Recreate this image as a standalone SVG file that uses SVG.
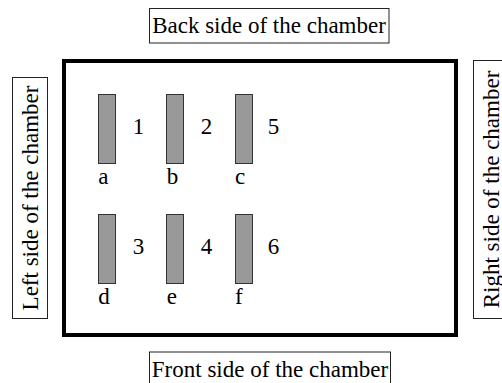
<svg xmlns="http://www.w3.org/2000/svg" width="502" height="383" viewBox="0 0 502 383" font-family="'Liberation Serif', 'Times New Roman', 'DejaVu Serif', serif">
<style>
text{font-family:'Liberation Serif','Times New Roman','DejaVu Serif',serif;font-size:23px;fill:#000}
.lbl{fill:#fff;stroke:#222;stroke-width:1}
.el{fill:#999;stroke:#333;stroke-width:1}
.mid{text-anchor:middle}
</style>
<rect width="502" height="383" fill="#fff"/>
<g id="chamber"><rect x="64" y="61" width="392" height="274" fill="none" stroke="#000" stroke-width="4"/></g>
<g id="back"><rect class="lbl" x="149.5" y="8.5" width="239.5" height="34.5"/><text class="mid" x="269" y="33">Back side of the chamber</text></g>
<g id="front"><rect class="lbl" x="149.5" y="352" width="241" height="34"/><text class="mid" x="270" y="377">Front side of the chamber</text></g>
<g id="left"><rect class="lbl" x="12.5" y="77.5" width="35" height="241"/><text class="mid" transform="translate(37.5,198) rotate(-90)">Left side of the chamber</text></g>
<g id="right"><rect class="lbl" x="473.5" y="60.5" width="35" height="258"/><text class="mid" transform="translate(498.5,189.5) rotate(-90)">Right side of the chamber</text></g>
<g id="pa"><rect class="el" x="98.5" y="94.5" width="17" height="69"/><text x="98.3" y="184">a</text><text class="mid" x="138.5" y="134">1</text></g>
<g id="pb"><rect class="el" x="166.5" y="94.5" width="17" height="69"/><text x="166.7" y="184">b</text><text class="mid" x="206.5" y="134">2</text></g>
<g id="pc"><rect class="el" x="235.5" y="94.5" width="17" height="69"/><text x="235" y="184">c</text><text class="mid" x="273.5" y="134">5</text></g>
<g id="pd"><rect class="el" x="98.5" y="214.5" width="17" height="69"/><text x="98.3" y="304">d</text><text class="mid" x="138.5" y="254">3</text></g>
<g id="pe"><rect class="el" x="166.5" y="214.5" width="17" height="69"/><text x="166.7" y="304">e</text><text class="mid" x="206.5" y="254">4</text></g>
<g id="pf"><rect class="el" x="235.5" y="214.5" width="17" height="69"/><text x="235" y="304">f</text><text class="mid" x="273.5" y="254">6</text></g>
<g id="connectors"/>
</svg>
